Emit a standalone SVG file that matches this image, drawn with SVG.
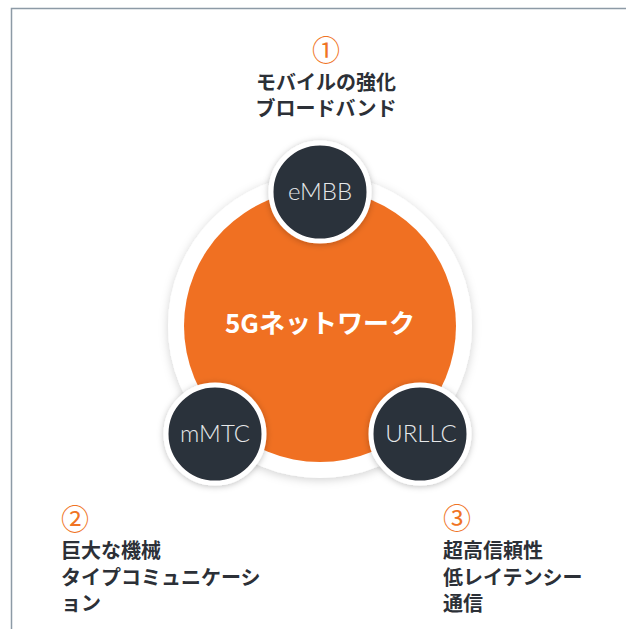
<svg xmlns="http://www.w3.org/2000/svg" width="626" height="629" viewBox="0 0 626 629">
<defs>
<filter id="sh" x="-20%" y="-20%" width="140%" height="140%">
<feDropShadow dx="0" dy="2" stdDeviation="5" flood-color="#000" flood-opacity="0.18"/>
</filter>
<filter id="sh2" x="-30%" y="-30%" width="160%" height="160%">
<feDropShadow dx="0" dy="1" stdDeviation="3" flood-color="#000" flood-opacity="0.25"/>
</filter>
</defs>
<style>
.frame{fill:none;stroke:#8d9aa6;stroke-width:1.5}
.num{font-family:"Noto Sans CJK JP","Liberation Sans",sans-serif;font-size:28px;fill:#f07423;text-anchor:middle}
.lbl{font-family:"Noto Sans CJK JP","Noto Sans CJK SC",sans-serif;font-size:20px;font-weight:700;fill:#2c3037}
.sub{fill:#2c313a;stroke:#ffffff;stroke-width:5}
.subt{font-family:"Lato","Open Sans","Liberation Sans",sans-serif;font-weight:300;font-size:24px;fill:#e6e8ea;text-anchor:middle}
</style>
<rect width="626" height="629" fill="#ffffff"/>
<path class="frame" d="M11.5 629 V8.5 H626"/>
<g id="core">
<circle cx="320" cy="326" r="152" fill="#ffffff" filter="url(#sh)"/>
<circle cx="320" cy="326" r="136" fill="#f07022"/>
<text x="320" y="333" font-family="Noto Sans CJK JP,sans-serif" font-size="26" font-weight="700" fill="#ffffff" text-anchor="middle">5Gネットワーク</text>
</g>
<g id="embb">
<circle class="sub" cx="320" cy="192" r="49" filter="url(#sh2)"/>
<text class="subt" x="320" y="200">eMBB</text>
</g>
<g id="mmtc">
<circle class="sub" cx="215" cy="434" r="49" filter="url(#sh2)"/>
<text class="subt" x="215" y="442">mMTC</text>
</g>
<g id="urllc">
<circle class="sub" cx="420" cy="434" r="49" filter="url(#sh2)"/>
<text class="subt" x="421" y="442">URLLC</text>
</g>
<g id="label1">
<text class="num" x="326" y="61">①</text>
<text class="lbl" x="326" y="90" text-anchor="middle">モバイルの強化</text>
<text class="lbl" x="326" y="116" text-anchor="middle">ブロードバンド</text>
</g>
<g id="label2">
<text class="num" x="75" y="530">②</text>
<text class="lbl" x="61" y="558">巨大な機械</text>
<text class="lbl" x="61" y="585">タイプコミュニケーシ</text>
<text class="lbl" x="61" y="611">ョン</text>
</g>
<g id="label3">
<text class="num" x="457" y="529">③</text>
<text class="lbl" x="443" y="558">超高信頼性</text>
<text class="lbl" x="443" y="585">低レイテンシー</text>
<text class="lbl" x="443" y="611">通信</text>
</g>
<g id="connectors"></g>
</svg>
